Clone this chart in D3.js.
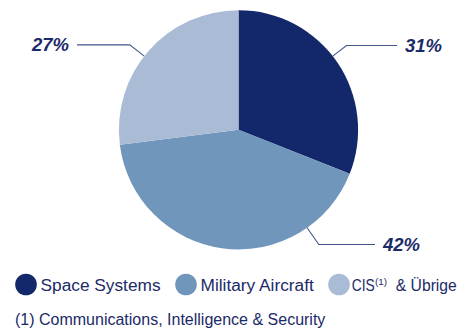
<!DOCTYPE html>
<html>
<head>
<meta charset="utf-8">
<script src="https://cdn.jsdelivr.net/npm/d3@7"></script>
<style>
  html, body { margin: 0; padding: 0; background: #fff; }
  svg { display: block; }
  text { font-family: "Liberation Sans", Arial, Helvetica, sans-serif; fill: #1b2a68; }
</style>
</head>
<body>
<svg id="chart" width="463" height="329"></svg>
<script>
// Revenue split by business line
const categories = ["Space Systems", "Military Aircraft", "CIS & Übrige"];
const shares = [31, 42, 27];
const shareLabels = ["31%", "42%", "27%"];
const colors = ["#13286a", "#7196bb", "#aabbd5"];
const footnote = "(1) Communications, Intelligence & Security";

const svg = d3.select("#chart");
const cx = 238.5, cy = 129.8, radius = 119.6;

const pie = d3.pie().sort(null).value(d => d)(shares);
const arc = d3.arc().innerRadius(0).outerRadius(radius);

const g = svg.append("g").attr("transform", `translate(${cx},${cy})`);
g.selectAll("path.slice")
  .data(pie)
  .join("path")
  .attr("class", "slice")
  .attr("d", arc)
  .attr("fill", (d, i) => colors[i]);

// Leader lines: radial stub from the rim, then a horizontal run to the label
const leader = [
  { angle: 52, elbowR: 137, endX: 397, side: 1, textX: 405 },
  { angle: 145, elbowR: 140, endX: 375, side: 1, textX: 383 },
  { angle: 308, elbowR: 138, endX: 77, side: -1, textX: 69 }
];
const toXY = (deg, r) => {
  const a = deg * Math.PI / 180;
  return [cx + r * Math.sin(a), cy - r * Math.cos(a)];
};
leader.forEach((L, i) => {
  const p0 = toXY(L.angle, radius);
  const p1 = toXY(L.angle, L.elbowR);
  const p2 = [L.endX, p1[1]];
  svg.append("path")
    .attr("d", d3.line()([p0, p1, p2]))
    .attr("fill", "none")
    .attr("stroke", "#44548a")
    .attr("stroke-width", 1.1);
  svg.append("text")
    .attr("x", L.textX)
    .attr("y", p1[1] + 6.3)
    .attr("text-anchor", L.side > 0 ? "start" : "end")
    .attr("font-size", 18.5)
    .attr("font-weight", "bold")
    .attr("font-style", "italic")
    .text(shareLabels[i]);
});

// Legend
const legendX = [26, 186, 339];
const legendY = 284.5;
const lg = svg.append("g");
categories.forEach((c, i) => {
  lg.append("circle")
    .attr("cx", legendX[i]).attr("cy", legendY).attr("r", 10.8)
    .attr("fill", colors[i]);
  const tx = legendX[i] + (i === 2 ? 12.8 : 14.5);
  const ty = legendY + 6.4;
  if (i === 2) {
    // "CIS" + superscript footnote mark + "& Übrige", fitted to the row's right margin
    lg.append("text").attr("x", tx).attr("y", ty).attr("font-size", 17.3)
      .attr("textLength", 23).attr("lengthAdjust", "spacingAndGlyphs").text("CIS");
    lg.append("text").attr("x", tx + 23.3).attr("y", ty - 6).attr("font-size", 9)
      .attr("textLength", 12).attr("lengthAdjust", "spacingAndGlyphs").text("(1)");
    lg.append("text").attr("x", tx + 44).attr("y", ty).attr("font-size", 17.3)
      .attr("textLength", 61).attr("lengthAdjust", "spacingAndGlyphs").text("& Übrige");
  } else {
    lg.append("text").attr("x", tx).attr("y", ty).attr("font-size", 17.3).text(c);
  }
});

// Footnote
svg.append("text")
  .attr("x", 15)
  .attr("y", 325)
  .attr("font-size", 16)
  .text(footnote);
</script>
</body>
</html>
